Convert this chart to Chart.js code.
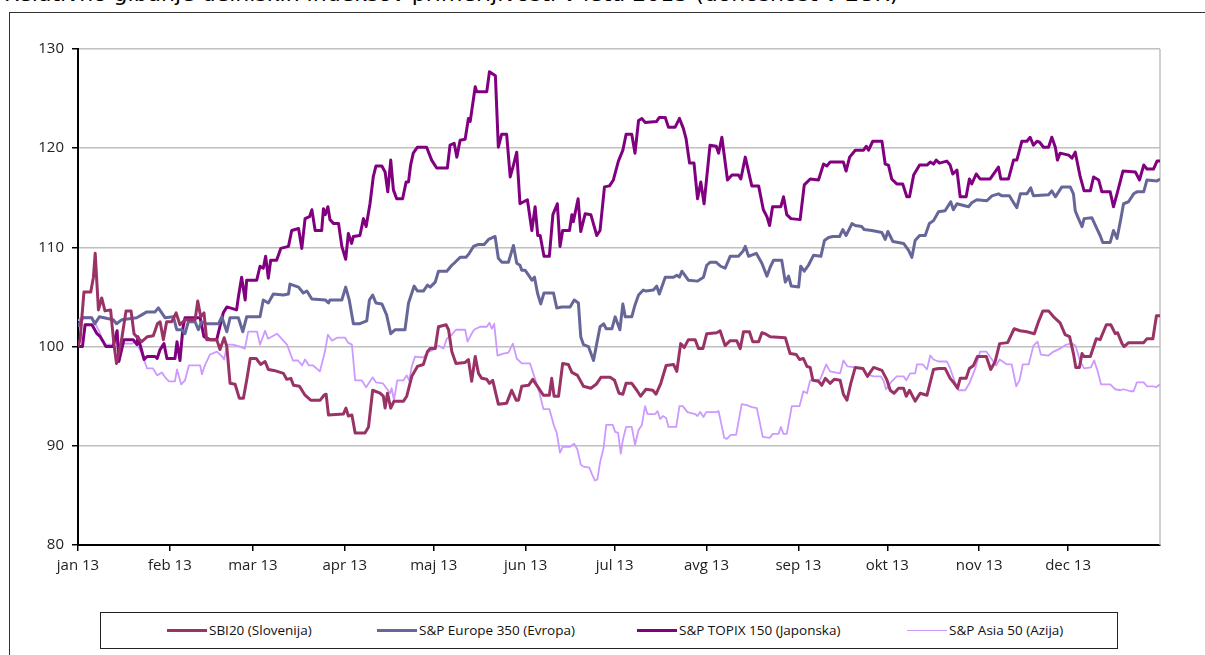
<!DOCTYPE html>
<html>
<head>
<meta charset="utf-8">
<script src="https://cdn.jsdelivr.net/npm/chart.js@4.4.1/dist/chart.umd.min.js"></script>
<style>
  html, body { margin: 0; padding: 0; background: #fff; overflow: hidden; }
  body { width: 1205px; height: 655px; position: relative; font-family: "Open Sans", sans-serif; }
  #title { position: absolute; left: 4px; top: -19px; font-family: "DejaVu Sans", sans-serif; font-size: 22px; color: #000; white-space: nowrap; }
  #frame { position: absolute; left: 9px; top: 12px; width: 1300px; height: 800px; border: 1px solid #333; }
  #chart { position: absolute; left: 0; top: 0; }
  #legend { position: absolute; left: 100px; top: 612px; width: 1016px; height: 35px; border: 1px solid #222; background: #fff; }
  .item { position: absolute; top: 8px; font-size: 13.5px; color: #111; white-space: nowrap; display: flex; align-items: center; }
  .swatch { display: inline-block; width: 40px; margin-right: 2px; }
</style>
</head>
<body>
<div id="title">Relativno gibanje delniških indeksov primerljivosti v letu 2013 (donosnost v EUR)</div>
<div id="frame"></div>
<canvas id="chart" width="1205" height="600"></canvas>
<div id="legend"></div>
<script>
// x axis: day of year 2013, ticks at first day of each month
const monthStarts = [0, 31, 59, 90, 120, 151, 181, 212, 243, 273, 304, 334];
const monthLabels = ['jan 13', 'feb 13', 'mar 13', 'apr 13', 'maj 13', 'jun 13',
                     'jul 13', 'avg 13', 'sep 13', 'okt 13', 'nov 13', 'dec 13'];
const yTicks = [80, 90, 100, 110, 120, 130];

const seriesNames = ['SBI20 (Slovenija)', 'S&P Europe 350 (Evropa)', 'S&P TOPIX 150 (Japonska)', 'S&P Asia 50 (Azija)'];

// SBI20
const sbiDays = [0,0.7,2,4.3,5.2,5.8,6.9,8,9.1,11,12.1,13,14.7,16.2,17.9,18.9,20.4,21.5,23.4,25.4,26.8,27.7,28.8,29.9,31.6,33.1,34.4,36.1,39.5,40.4,41.4,42.5,43.4,46.8,47.9,49.3,50.2,51.3,53,54.4,55.8,56.9,58.1,60.1,61.6,63.1,64.2,66.1,69.3,70.4,71.8,72.7,74.7,76.6,78.5,81.7,83,83.7,84.5,89.5,90.4,91.2,92.4,93.5,96.8,98,99.4,101.9,103,103.6,104.4,105.5,106.6,109.8,110.9,112.6,114.5,116.5,117.9,118.8,120.5,121.6,124.2,125,126.1,127.5,130.6,131.7,132.8,134,135.1,136.2,137.9,138.8,139.9,141.8,144.6,146.3,147.8,148.6,149.7,152,153.4,155,157,159,159.8,160.6,162.1,163.5,165.4,166.6,168.5,170.5,173,174.8,176.4,179.5,181,182.5,183.8,184.9,186.8,188.5,189.8,191.6,193.9,195,196.6,198.4,200.9,202,203.3,204.5,205.9,208.2,209.3,210.8,212.1,215.5,216.6,218.3,220,222.2,223.4,224.5,226.5,227.6,229.6,230.7,231.8,233.5,238.6,240.2,242.3,243.4,244.7,245.9,247,247.9,249.8,250.9,252.1,253.7,255.1,257.1,258.2,259.4,260.7,262.2,264.8,266.3,268.4,271.2,272.8,274,275.3,276.8,278.5,279.4,280.5,282.4,284.1,286.4,288.6,290.3,292.5,294.2,295.6,296.7,297.6,299.6,300.7,302.1,303.4,306.4,307.9,309.4,310.9,313.6,315.8,317.8,320.1,322.6,324,325.5,327.4,329.1,331.3,333,334.5,335.8,336.6,337.8,338.7,339.4,341.5,343.5,344.8,346.9,348.4,349.9,350.7,352.2,352.9,354.4,359.5,360.6,362.6,363.8,365];
const sbiVals = [100,100.7,105.5,105.5,107,109.4,103.7,104.9,103.6,103.7,100.3,98.3,100.7,103.6,103.6,101.3,100.8,100.5,101,101.1,102.3,102.5,100.7,102.5,102.5,103.4,102.2,102.7,102.7,104.6,103,103.4,100.7,100.7,99.7,100.9,100,96.3,96.2,94.8,94.8,96.6,98.8,98.8,98.2,98.5,97.7,97.6,97.3,96.7,96.8,96.1,96,95.1,94.6,94.6,95.1,95.2,93.1,93.2,93.8,93,93.1,91.3,91.3,91.9,95.6,95.3,95,93.8,95.3,93.8,94.5,94.5,95,97,98,98.2,99.5,99.8,99.8,102,102.2,101.7,99.5,98.3,98.4,98.7,96.5,99,97.3,96.8,96.7,96.3,96.6,94.2,94.3,95.6,94.6,94.6,96,96.1,96.7,96,95.1,95.1,96.8,95,95,98.3,98.2,97.4,97.1,96,95.8,96.2,96.9,96.9,96.6,95.3,95.2,96.3,96.3,95.6,95,95.7,95.6,95.2,96.3,98.1,98.2,97.5,100.3,99.9,100.7,100.7,99.8,99.8,101.3,101.4,101.6,100.1,100.6,100.6,99.8,101.5,101.5,100.5,100.5,101.4,101.3,101,100.9,99.3,99.2,98.7,98.8,98,97.9,96.6,96.5,96.1,96.8,96.3,96.7,96.6,95.2,94.6,96.3,97.9,97.8,97,97.9,97.6,96.7,95.6,95.3,95.8,95.8,95,95.6,94.5,95.3,95.1,97.7,97.8,97.8,96.8,96.3,95.8,96.8,96.8,97.8,98.1,99,99,97.7,98.5,100.3,100.4,101.8,101.6,101.5,101.3,102.5,103.6,103.6,103,102.4,101.2,101,99.3,97.9,97.9,99.3,99,99,100.8,100.7,102.2,102.2,101.3,101.4,100.3,100,100.4,100.4,100.8,100.8,103.1,103.1];

// S&P Europe 350
const eurDays = [0,1.6,4.6,5.7,7.2,11.9,13,14.7,19.8,21.5,23.2,26,27.1,29.4,32.2,33.3,35,36.1,37.2,39.5,40.6,41.7,42.9,47.4,48.5,50.2,51.3,54.1,55.6,56.9,61.4,62.5,64.2,65.9,69.3,71,71.5,74.4,76,77.2,78.9,83.4,84.5,85,89,90.3,91.5,92.9,94.9,97.4,98.3,99.4,100.5,102.5,104.1,105.5,107,110.3,111.5,113.4,114.5,116.5,117.9,118.8,120.5,121.6,124.4,126.1,127.2,128.9,130.9,132,133.4,135.1,137,138.5,140.7,141.8,143,145.2,146.9,148,149.1,149.7,150.8,152,153.1,154,155,156.1,157.2,160.4,161.5,163.2,166,167.4,168.8,169.6,170.5,172.2,173.9,174.8,176.1,177.3,178.2,180.1,181.2,182.8,183.8,184.6,186.8,187.9,189.1,190.7,191.6,194.1,195.2,196.1,198.1,200.9,202,202.9,203.7,205.9,209,211,212.1,213.2,215.3,216.8,218.3,220,222.8,224.3,225.1,226.2,228.8,230.7,232.4,233.5,234.6,237.4,238.6,239.7,240.6,243.1,243.8,245,246.4,248.1,250.6,251.8,253.2,254.6,256.9,258,259.1,261.1,262.2,264.4,265.2,267.8,269.5,271.2,272.3,273.2,274.9,278.5,280.2,281.3,282.4,283.9,285.8,287.2,288.6,290.3,292.5,294.4,295.3,296.5,300.4,301.5,303.2,306.6,308.3,310.5,311.7,314.2,315,316.7,317.9,320.1,321.4,322.3,327.4,328.5,329.7,331.9,334.7,335.8,336.4,337.5,338.7,339.4,342,343.7,344.8,345.7,348.2,349.3,350.5,351.8,352.7,354.4,356.1,357.2,359.5,360.6,364,365];
const eurVals = [102,102.9,102.9,102.3,103,102.7,102.3,102.7,102.9,103.2,103.5,103.5,103.9,102.9,103,101.7,101.7,101.3,102.5,102.5,101.7,102.5,102.3,102.3,103,101.5,102.9,102.9,101.5,103,103,104.7,104.4,105.3,105.2,105.3,106.3,106,105.4,105.6,104.8,104.7,104.4,104.7,104.7,106,104.7,102.3,102.3,102.6,104.7,105.2,104.4,104.3,103.2,101.3,101.7,101.7,104.4,106.1,105.6,105.6,106.2,106,106.5,107.6,107.6,108.2,108.5,109,109,109.4,110.1,110.3,110.3,110.8,111.1,108.9,108.5,108.5,110.2,108.4,108.2,107.7,107.7,107.2,106.7,107,105.4,104.3,105.4,105.4,103.9,104,104,104.7,104.4,101,100.2,100,98.6,100,102,102.3,101.8,101.8,103,101.7,104.3,103,103,104.2,105.2,105.7,105.6,105.7,106.1,105.3,107,107,107.2,107,107.6,106.7,106.6,107,108.2,108.5,108.5,108.1,107.9,109.1,109.1,109.6,110.1,109.1,109.4,108.4,107.1,108,108.7,108.7,106.5,107.1,106.1,106,108.1,107.6,108.2,109.2,109.1,110.7,111,111.1,111.1,111.8,111.2,112.4,112.2,112.1,111.8,111.7,111.6,111.5,110.8,111.6,110.6,110.4,109.7,109,110.7,111.2,111.2,112.4,112.7,113.6,113.7,114.6,113.8,114.4,114.1,114.5,114.8,114.7,115.2,115.4,115.2,115.2,114.8,114,115.4,115.4,116,115.2,115.3,115.7,115.1,116.1,116.1,115.4,113.7,112.9,112.1,112.9,113,111.9,111.2,110.5,110.5,111.7,110.9,112.9,114.4,114.6,115.4,115.6,115.6,116.8,116.7,116.9];

// S&P TOPIX 150
const topDays = [0,1.5,2.4,4.7,6.4,7.5,8.5,9.4,11.8,13.2,13.8,15.5,18.6,19.9,20.2,22.3,23.3,26,26.7,27.7,29,30,32.7,33.4,34.4,35.4,36.1,41.2,42.5,44.5,46.8,49,50.2,53.5,54.1,55.2,56.4,56.9,60.3,61.4,62.5,63.3,64.2,65,67,68.4,71,72.1,74.4,75.5,76.6,78.1,78.9,80,82.2,82.8,83.4,84.3,85,86.2,87.9,89,90.3,91.2,92.3,92.9,95.1,96.3,97.2,98.5,99.6,100.5,102.5,103.6,104.5,105.5,106.4,107.5,109.5,110.7,111.5,112.2,113.1,114.5,117.6,119.3,121,124.6,125.5,126.9,127.8,128.9,130.6,131.7,132.3,134,134.5,137.9,138.8,140.8,141.8,142.9,144.6,145.8,146.9,148,149.1,151.6,153.1,154.2,155.1,155.9,157.2,159,160.2,161.7,162.6,163.5,165.8,166.6,167.1,168.7,169.6,171.1,173,175,176.1,177.6,179.3,180.6,182.3,183.8,184.9,186.8,187.9,189.1,190.2,191.3,195.2,196.1,198.1,199.2,201.4,202.9,204.2,205.1,206.3,207.8,209,210.1,211.2,213.2,215.3,216.1,217.2,219.1,220.6,222.8,223.6,225.1,227.3,229.6,231.2,232.4,233.3,234.3,237.1,238,239.1,240.5,243.6,245,247,249.8,251.5,252.6,253.7,258.2,259.1,260.3,262.2,265,265.9,266.7,268.1,271.2,272.3,273.4,274.5,276.2,278.2,279.6,280.5,281.9,283.9,286.4,287.5,288.6,289.5,290.6,293.1,294.2,295.1,296.5,297.6,299.6,300.7,301.5,303,304.3,307.7,310.5,311.3,313.9,315.6,316.7,318.4,320.1,321.2,322.3,323.5,324.4,325.7,327.4,328.5,329.7,330.4,331.3,334.2,335.3,336.4,338.1,339.4,341.5,342.6,344.3,345.4,348.2,349.3,350.5,352.5,356.7,358.1,359.5,360.6,362.8,364,365];
const topVals = [100,100,102.2,102.2,101.3,101,100.5,100,100,101.6,98.5,100.7,100.7,100.2,101,98.7,99,99,98.8,99.7,100.3,98.8,98.8,100.5,98.6,101.9,102.9,102.9,101,100.7,100.7,103.4,104,103.7,105,107,104.7,106.7,106.7,108.1,107.9,109.1,106.9,108.7,108.7,109.9,110.1,111.7,111.9,109.9,112.9,113.1,113.8,111.7,111.7,113.9,113.3,114.1,112.8,112.4,112.4,110.1,108.8,111.4,110.4,111.1,111.2,112.9,112.1,114.4,117.1,118.2,118.2,117.6,115.6,118.8,115.8,114.9,114.9,116.6,116.6,118.3,119.5,120.1,120.1,118.8,118,118,120.3,120.5,119.1,120.8,120.9,123,122.7,126.2,125.7,125.7,127.7,127.3,120.1,121.4,121.4,117.1,118.3,119.6,114.4,114.8,111.7,114.1,111.2,111.2,109.1,109.1,113.3,114.4,110.1,111.7,111.7,113.3,112.6,114.9,111.6,113.4,113.3,111.2,111.7,116.1,116.2,116.8,118.7,119.8,121.4,121.4,119.5,122.8,123,122.6,122.7,123.1,123.1,122.1,122.1,123,122,121,118.5,118.5,114.9,116.6,114.4,120.3,120.2,119.5,121.1,116.8,117.3,117.3,116.9,119.1,116.2,116.2,113.8,113.1,112.2,114.1,114.1,115.1,113.3,112.9,112.8,116.3,116.9,116.8,118.4,118.2,118.6,118.6,117.7,119.1,119.8,119.8,120.2,119.8,120.7,120.7,118.4,118.3,116.9,116.4,116.4,115.1,115.1,117.3,118.3,118.3,118.6,118.4,118.8,118.5,118.7,118.3,117.4,117.8,115.1,115.1,116.9,116.4,117.4,116.9,116.9,118.1,116.9,116.9,118.8,118.8,120.7,120.7,121.1,120.3,120.7,120.6,120.1,120.1,121.1,120.1,118.8,119.5,119.3,119,119.6,117.1,115.7,115.7,117.1,116.8,115.6,115.6,114.1,115.4,117.7,117.6,116.8,118.3,117.9,117.9,118.7,118.7];

// S&P Asia 50
const asiaDays = [0,1.3,4.7,5.7,7.2,8.4,9.4,11.8,12.8,14.2,15.2,18.2,19.2,20.9,21.9,23.3,25.3,26.7,28.3,29.4,30.7,32.7,33.4,34.8,36.1,37.4,41.2,41.8,42.8,44.5,46.9,48.6,49.3,50.3,52.3,54.7,56.3,57.4,60.4,61.4,63.1,64.1,67.1,70.5,72.5,74.2,75.6,76.6,77.9,79.3,81.6,83.3,84.3,85.7,87.4,90.1,91.1,92.4,93.5,95.7,97.2,99.4,100.5,102.8,104.1,105.3,105.8,106.6,107.7,109.8,110.9,111.7,112.6,113.7,116.5,117.9,119.9,121.6,123.3,124.4,126.1,127.5,130.6,131.4,132.8,133.6,135.6,137.9,138.8,139.6,140.4,141.5,143.5,145.2,146.7,148,149.7,152.5,153.9,155.7,157,159,160.6,161.5,162.6,163.5,166,167.4,168.5,169.6,170.5,172.5,173.3,174.4,175.2,176.1,177.3,178.2,180.4,181.2,182.2,183.1,183.8,184.9,186.8,187.9,189.1,190.2,191.3,192.1,194.7,195.5,196.4,197.3,198.4,199.2,201.8,202.9,204,205.6,208.2,209,209.9,211,211.9,215.3,216.1,218,218.9,220.2,222,223.9,225.6,227.3,229,231,233.3,234.4,236.3,237.1,238,239.1,240.8,243.4,244.7,245.9,247,250.4,252.4,253.7,257.1,258.2,259.6,262.2,265,266.1,268.4,270.8,271.7,272.6,274.5,276.2,278.5,279.4,280.7,282.4,283,285,286.4,287.5,288.6,290.3,293.1,294.2,295.6,297,299.3,300.7,302.7,304.3,306.4,308.3,309.7,310.9,313.4,315,316.5,317.6,318.7,320.7,322.3,323.7,324.8,327.4,329.1,331.3,333.4,335.3,336.5,338.1,339.4,341.7,342.8,344,345.1,348.2,349.9,351.6,352.7,355,356.1,357.2,359.5,360.6,362.8,363.7,365];
const asiaVals = [102.6,103,103,102.4,101.5,100.5,100.2,100.2,100.5,99.6,100.3,100.3,100.5,99.7,99,97.8,97.8,97.1,97.4,96.9,96.5,96.5,97.7,96.2,96.6,98.1,98.1,97.2,98.1,99.2,99.5,99,98.7,100.2,100.2,100,99.8,101.5,101.5,100.2,101.6,100.8,101.3,100.2,98.6,98.6,98.1,98.7,98.1,98.1,97.5,99.5,101.2,100.6,100.9,100.9,100.4,100.2,96.6,96.6,95.9,96.9,96.4,96.3,95.8,95.3,95.8,94.6,96.6,96.6,97.1,96.6,98,99,98.9,99.4,99.7,100.1,99.8,100.8,101.2,101.7,101.7,100.5,101.3,101.7,102,102,102.4,101.8,102.3,99.1,99.3,99.4,100.3,98.8,98.3,98.3,97,95.3,93.7,93.7,92,91.3,89.3,89.9,89.9,90.2,89.6,88.1,87.9,87.8,87.2,86.5,86.6,88.3,89.8,92.1,92.1,91.4,91.3,89.2,90.6,91.9,91.9,90.1,91.6,92.1,94,93.2,93.2,93.5,92.7,93,92.8,91.9,91.9,94,94,93.4,93.2,93,93.4,92.9,93.4,93.4,93.5,90.8,90.7,91.1,91.1,94.2,94.1,93.9,93.8,90.9,90.8,91.2,91.2,91.9,91.2,91.2,94,94,95.5,95.3,96.6,96.7,98.2,97.5,97.3,98.6,98,97.9,97.7,97.2,97,97,96.6,95.7,96.5,97,97,96.6,97.3,97.3,98.2,98.2,97.7,99.1,98.7,98.5,98.5,97.8,96.6,95.6,95.6,96.3,97.8,99.5,99.5,98.7,98.1,98.7,98.2,98.2,96,96.6,98.2,98.2,100.1,100.5,99.2,99.1,99.5,99.8,100.2,100.3,100.1,98.5,97.8,97.9,98.6,97.5,96.2,96.2,95.7,95.6,95.7,95.5,95.5,96.4,96.4,96,96,95.9,96.2];

const colors = ['#993366', '#666699', '#800080', '#CC99FF'];
const widths = [3, 3, 3, 1.8];
const allDays = [sbiDays, eurDays, topDays, asiaDays];
const allVals = [sbiVals, eurVals, topVals, asiaVals];

const datasets = seriesNames.map((name, k) => ({
    label: name,
    data: allDays[k].map((d, i) => ({ x: d, y: allVals[k][i] })),
    borderColor: colors[k],
    backgroundColor: colors[k],
    borderWidth: widths[k],
    pointRadius: 0,
    tension: 0,
    fill: false,
    borderJoinStyle: 'round'
}));

// thin grey line along the right edge of the plot area
const rightEdge = {
    id: 'rightEdge',
    beforeDatasetsDraw(chart) {
        const { ctx, chartArea } = chart;
        ctx.save();
        ctx.strokeStyle = '#c0c0c0';
        ctx.lineWidth = 1.5;
        ctx.beginPath();
        ctx.moveTo(chartArea.right, chartArea.top);
        ctx.lineTo(chartArea.right, chartArea.bottom);
        ctx.stroke();
        ctx.restore();
    }
};

const tickFont = { family: '"Open Sans", sans-serif', size: 15 };

new Chart(document.getElementById('chart').getContext('2d'), {
    type: 'line',
    data: { datasets },
    plugins: [rightEdge],
    options: {
        responsive: false,
        animation: false,
        layout: { padding: { top: 49, right: 45, left: 0, bottom: 0 } },
        plugins: { legend: { display: false }, tooltip: { enabled: false } },
        scales: {
            x: {
                type: 'linear',
                min: 0,
                max: 365,
                afterBuildTicks: axis => { axis.ticks = monthStarts.map(v => ({ value: v })); },
                afterFit: s => { s.height = 55; },
                ticks: {
                    autoSkip: false,
                    maxRotation: 0,
                    padding: 6,
                    color: '#222',
                    font: tickFont,
                    callback: v => monthLabels[monthStarts.indexOf(v)]
                },
                grid: { drawOnChartArea: false, drawTicks: true, tickLength: 6, tickColor: '#000', lineWidth: 1.5 },
                border: { color: '#000', width: 2 }
            },
            y: {
                min: 80,
                max: 130,
                afterBuildTicks: axis => { axis.ticks = yTicks.map(v => ({ value: v })); },
                afterFit: s => { s.width = 78; },
                ticks: { padding: 8, color: '#222', font: tickFont },
                grid: { color: '#c0c0c0', lineWidth: 1.5, drawTicks: true, tickLength: 6, tickColor: '#000' },
                border: { color: '#000', width: 2 }
            }
        }
    }
});

// legend drawn from the same series
const legendX = [66, 276, 536, 806];
const legendEl = document.getElementById('legend');
seriesNames.forEach((name, k) => {
    const item = document.createElement('div');
    item.className = 'item';
    item.style.left = legendX[k] + 'px';
    const sw = document.createElement('span');
    sw.className = 'swatch';
    sw.style.borderTop = widths[k] + 'px solid ' + colors[k];
    const tx = document.createElement('span');
    tx.textContent = name;
    item.appendChild(sw);
    item.appendChild(tx);
    legendEl.appendChild(item);
});
</script>
</body>
</html>
